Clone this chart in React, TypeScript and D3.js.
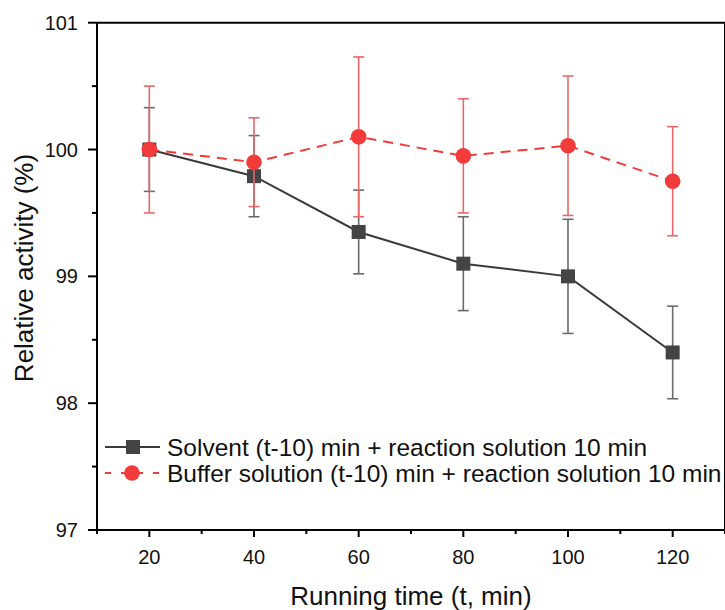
import React from 'react'
import * as d3 from 'd3'

const times = [20, 40, 60, 80, 100, 120]
const solventMean = [100.0, 99.79, 99.35, 99.1, 99.0, 98.4]
const solventErr = [0.33, 0.32, 0.33, 0.37, 0.45, 0.365]
const bufferMean = [100.0, 99.9, 100.1, 99.95, 100.03, 99.75]
const bufferErr = [0.5, 0.35, 0.63, 0.45, 0.55, 0.43]
const xTicks = [20, 40, 60, 80, 100, 120]
const xMinor = [10, 30, 50, 70, 90, 110, 130]
const yTicks = [97, 98, 99, 100, 101]
const yMinor = [97.5, 98.5, 99.5, 100.5]

const W = 725
const H = 610
const margin = { top: 22.7, right: 0, bottom: 80, left: 97 }

const font = '"Liberation Sans", Arial, sans-serif'
const dark = '#444444'
const darkErr = '#6a6a6a'
const red = '#f23c3c'
const redErr = '#e8686a'

const App = () => {
  const x = d3.scaleLinear().domain([10, 130]).range([margin.left, 725])
  const y = d3.scaleLinear().domain([97, 101]).range([530, margin.top])

  const solventPath = d3.line<number>()
    .x((_, i) => x(times[i]))
    .y((d) => y(d))(solventMean) ?? ''
  const bufferPath = d3.line<number>()
    .x((_, i) => x(times[i]))
    .y((d) => y(d))(bufferMean) ?? ''

  const errorBars = (means: number[], errs: number[], color: string, key: string) =>
    means.map((m, i) => {
      const cx = x(times[i])
      const y1 = y(m + errs[i])
      const y2 = y(m - errs[i])
      return (
        <g key={key + i} stroke={color} strokeWidth={1.6}>
          <line x1={cx} x2={cx} y1={y1} y2={y2} />
          <line x1={cx - 5.5} x2={cx + 5.5} y1={y1} y2={y1} />
          <line x1={cx - 5.5} x2={cx + 5.5} y1={y2} y2={y2} />
        </g>
      )
    })

  const x0 = x.range()[0]
  const y0 = y.range()[0]

  return (
    <svg width={W} height={H} style={{ position: 'absolute', left: 0, top: 0 }} fontFamily={font}>
      <rect width={W} height={H} fill="#fff" />

      {/* solvent series */}
      {errorBars(solventMean, solventErr, darkErr, 's')}
      <path d={solventPath} fill="none" stroke="#3a3a3a" strokeWidth={2} />
      {solventMean.map((m, i) => (
        <rect key={'sq' + i} x={x(times[i]) - 7} y={y(m) - 7} width={14} height={14} fill={dark} />
      ))}

      {/* buffer series */}
      {errorBars(bufferMean, bufferErr, redErr, 'b')}
      <path d={bufferPath} fill="none" stroke={red} strokeWidth={2} strokeDasharray="10,7" />
      {bufferMean.map((m, i) => (
        <circle key={'c' + i} cx={x(times[i])} cy={y(m)} r={7.8} fill={red} />
      ))}

      {/* frame */}
      <g stroke="#000" strokeWidth={2} fill="none">
        <line x1={x0} x2={W + 2} y1={y(101)} y2={y(101)} />
        <line x1={x0} x2={W + 2} y1={y0} y2={y0} />
        <line x1={x0} x2={x0} y1={y(101)} y2={y0} />
        <line x1={725} x2={725} y1={y(101)} y2={y0} />
      </g>

      {/* y ticks */}
      {yTicks.map((t) => (
        <g key={'yt' + t}>
          <line x1={x0 - 9} x2={x0} y1={y(t)} y2={y(t)} stroke="#000" strokeWidth={2} />
          <text x={x0 - 19} y={y(t)} dy="0.35em" textAnchor="end" fontSize={20} fill="#111">{t}</text>
        </g>
      ))}
      {yMinor.map((t) => (
        <line key={'ym' + t} x1={x0 - 5} x2={x0} y1={y(t)} y2={y(t)} stroke="#000" strokeWidth={2} />
      ))}

      {/* x ticks */}
      {xTicks.map((t) => (
        <g key={'xt' + t}>
          <line x1={x(t)} x2={x(t)} y1={y0} y2={y0 + 7} stroke="#000" strokeWidth={2} />
          <text x={x(t)} y={564} textAnchor="middle" fontSize={20} fill="#111">{t}</text>
        </g>
      ))}
      {xMinor.map((t) => (
        <line key={'xm' + t} x1={x(t)} x2={x(t)} y1={y0} y2={y0 + 4} stroke="#000" strokeWidth={2} />
      ))}

      {/* axis titles */}
      <text x={411} y={605} textAnchor="middle" fontSize={26} fill="#111">Running time (t, min)</text>
      <text transform="translate(33,268) rotate(-90)" textAnchor="middle" fontSize={26} fill="#111">Relative activity (%)</text>

      {/* legend */}
      <g>
        <line x1={105} x2={160} y1={447} y2={447} stroke="#3a3a3a" strokeWidth={2} />
        <rect x={126} y={440} width={14} height={14} fill={dark} />
        <text x={167} y={447} dy="0.35em" fontSize={24.5} fill="#111">Solvent (t-10) min + reaction solution 10 min</text>
        <line x1={105} x2={160} y1={473} y2={473} stroke={red} strokeWidth={2} strokeDasharray="6,10" />
        <circle cx={132} cy={473} r={7.8} fill={red} />
        <text x={167} y={473} dy="0.35em" fontSize={24.5} fill="#111">Buffer solution (t-10) min + reaction solution 10 min</text>
      </g>
    </svg>
  )
}

export default App
